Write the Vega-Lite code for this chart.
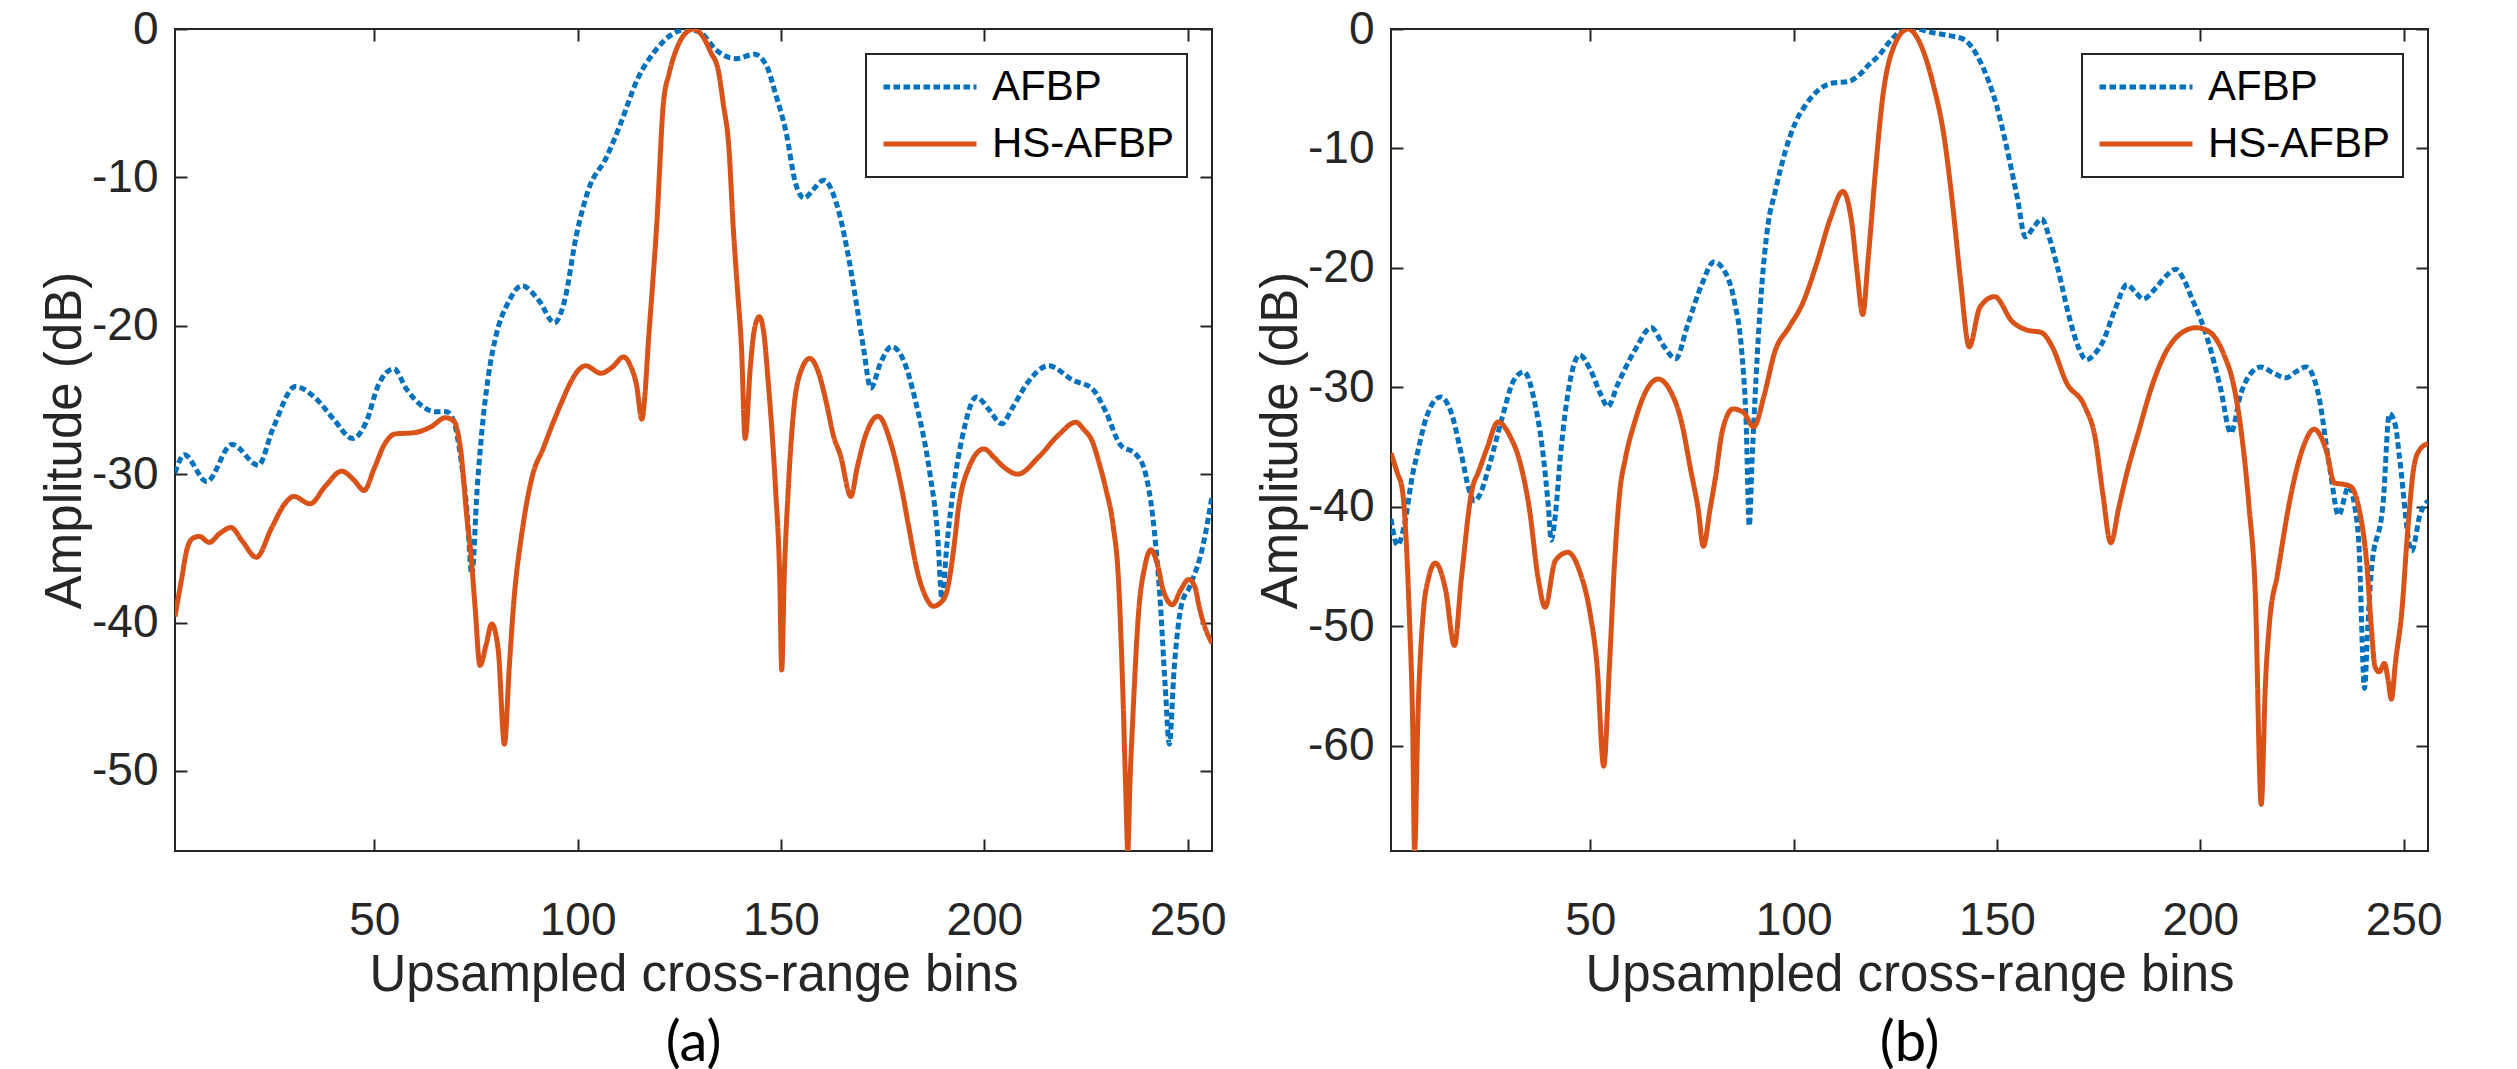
{
  "$schema": "https://vega.github.io/schema/vega-lite/v6.json",
  "padding": {"left": 38, "top": 5, "right": 80, "bottom": 5},
  "background": "white",
  "spacing": 179,
  "bounds": "flush",
  "resolve": {"scale": {"color": "independent", "strokeDash": "independent", "strokeWidth": "independent"}, "legend": {"color": "independent", "strokeDash": "independent"}},
  "config": {
    "view": {"stroke": "#262626", "strokeWidth": 2},
    "axis": {"grid": false, "domain": false, "tickColor": "#262626", "tickWidth": 2, "tickSize": -12, "labelFont": "Liberation Sans", "labelFontSize": 46, "labelColor": "#262626", "titleFont": "Liberation Sans", "titleFontSize": 51, "titleFontWeight": "normal", "titleColor": "#262626", "labelExpr": "'' + datum.value"},
    "axisX": {"labelPadding": 59, "titlePadding": 7},
    "axisY": {"labelPadding": 29, "titlePadding": 0},
    "legend": {"orient": "top-right", "offset": 25, "padding": 12, "strokeColor": "#262626", "strokeWidth": 2, "fillColor": "white", "labelFont": "Liberation Sans", "labelFontSize": 42, "labelColor": "#000000", "labelLimit": 500, "symbolType": "M-1,0H5", "symbolSize": 961, "symbolStrokeWidth": 5, "rowPadding": 15, "labelOffset": 72, "cornerRadius": 0},
    "title": {"font": "Lato", "fontSize": 56, "fontWeight": "normal", "color": "#000000", "orient": "bottom", "anchor": "middle", "frame": "group", "offset": 17}
  },
  "datasets": {
    "a": [
      {"s":"AFBP","x":1,"y":-29.9},{"s":"AFBP","x":3.3,"y":-28.7},{"s":"AFBP","x":8.8,"y":-30.5},{"s":"AFBP","x":15,"y":-28.0},{"s":"AFBP","x":21.5,"y":-29.4},{"s":"AFBP","x":25,"y":-27},{"s":"AFBP","x":30.6,"y":-24.1},{"s":"AFBP","x":36,"y":-25},{"s":"AFBP","x":40,"y":-26.3},{"s":"AFBP","x":44.7,"y":-27.6},{"s":"AFBP","x":48,"y":-26.5},{"s":"AFBP","x":51,"y":-24},{"s":"AFBP","x":54.8,"y":-22.9},{"s":"AFBP","x":58,"y":-24.3},{"s":"AFBP","x":61.7,"y":-25.4},{"s":"AFBP","x":65,"y":-25.8},{"s":"AFBP","x":67.8,"y":-25.8},{"s":"AFBP","x":69.5,"y":-26.4},{"s":"AFBP","x":71.3,"y":-29},{"s":"AFBP","x":72.8,"y":-32.5},{"s":"AFBP","x":74,"y":-36.8},{"s":"AFBP","x":75.3,"y":-31},{"s":"AFBP","x":76.5,"y":-27},{"s":"AFBP","x":78,"y":-23.5},{"s":"AFBP","x":80,"y":-20.6},{"s":"AFBP","x":83,"y":-18.4},{"s":"AFBP","x":86.3,"y":-17.3},{"s":"AFBP","x":90.5,"y":-18.3},{"s":"AFBP","x":94.3,"y":-19.8},{"s":"AFBP","x":96.8,"y":-18.3},{"s":"AFBP","x":99.7,"y":-13.9},{"s":"AFBP","x":102.7,"y":-10.8},{"s":"AFBP","x":107,"y":-8.7},{"s":"AFBP","x":110.4,"y":-6.5},{"s":"AFBP","x":114.7,"y":-3.4},{"s":"AFBP","x":119,"y":-1.5},{"s":"AFBP","x":123,"y":-0.4},{"s":"AFBP","x":127,"y":0},{"s":"AFBP","x":130.5,"y":-0.3},{"s":"AFBP","x":134,"y":-1.4},{"s":"AFBP","x":139,"y":-2.0},{"s":"AFBP","x":143.5,"y":-1.7},{"s":"AFBP","x":146.5,"y":-2.5},{"s":"AFBP","x":148.7,"y":-4.4},{"s":"AFBP","x":151.3,"y":-7.0},{"s":"AFBP","x":153.5,"y":-10.3},{"s":"AFBP","x":155.7,"y":-11.4},{"s":"AFBP","x":158,"y":-10.8},{"s":"AFBP","x":160.5,"y":-10.2},{"s":"AFBP","x":163.7,"y":-11.8},{"s":"AFBP","x":166.3,"y":-14.9},{"s":"AFBP","x":168.5,"y":-18.4},{"s":"AFBP","x":170.3,"y":-21.5},{"s":"AFBP","x":172.1,"y":-24.2},{"s":"AFBP","x":174.5,"y":-22.5},{"s":"AFBP","x":177.2,"y":-21.4},{"s":"AFBP","x":180.4,"y":-22.5},{"s":"AFBP","x":183.1,"y":-25.1},{"s":"AFBP","x":186.6,"y":-29.9},{"s":"AFBP","x":188.5,"y":-34},{"s":"AFBP","x":189.6,"y":-38.4},{"s":"AFBP","x":190.8,"y":-34.8},{"s":"AFBP","x":192.4,"y":-31},{"s":"AFBP","x":194.6,"y":-27.5},{"s":"AFBP","x":198.1,"y":-24.8},{"s":"AFBP","x":201,"y":-25.6},{"s":"AFBP","x":204.3,"y":-26.6},{"s":"AFBP","x":207,"y":-25.5},{"s":"AFBP","x":210.5,"y":-23.9},{"s":"AFBP","x":215.8,"y":-22.7},{"s":"AFBP","x":222,"y":-23.7},{"s":"AFBP","x":226.4,"y":-24.2},{"s":"AFBP","x":229.9,"y":-25.8},{"s":"AFBP","x":233.4,"y":-28},{"s":"AFBP","x":237.4,"y":-28.7},{"s":"AFBP","x":239.6,"y":-29.9},{"s":"AFBP","x":241.4,"y":-32.8},{"s":"AFBP","x":243.2,"y":-38.3},{"s":"AFBP","x":244.5,"y":-44.3},{"s":"AFBP","x":245.5,"y":-48.2},{"s":"AFBP","x":246.7,"y":-43.1},{"s":"AFBP","x":248.5,"y":-38.8},{"s":"AFBP","x":250.5,"y":-37.6},{"s":"AFBP","x":253.8,"y":-34.8},{"s":"AFBP","x":256,"y":-31.5},
      {"s":"HS-AFBP","x":1,"y":-39.6},{"s":"HS-AFBP","x":2.6,"y":-37.1},{"s":"HS-AFBP","x":4,"y":-35},{"s":"HS-AFBP","x":5.5,"y":-34.3},{"s":"HS-AFBP","x":7,"y":-34.2},{"s":"HS-AFBP","x":9.4,"y":-34.6},{"s":"HS-AFBP","x":12,"y":-34},{"s":"HS-AFBP","x":14.8,"y":-33.6},{"s":"HS-AFBP","x":17.5,"y":-34.5},{"s":"HS-AFBP","x":21,"y":-35.6},{"s":"HS-AFBP","x":24.8,"y":-33.6},{"s":"HS-AFBP","x":28,"y":-32},{"s":"HS-AFBP","x":30.2,"y":-31.5},{"s":"HS-AFBP","x":34.2,"y":-32},{"s":"HS-AFBP","x":38,"y":-30.8},{"s":"HS-AFBP","x":42,"y":-29.8},{"s":"HS-AFBP","x":45,"y":-30.4},{"s":"HS-AFBP","x":47.5,"y":-31.1},{"s":"HS-AFBP","x":50,"y":-29.6},{"s":"HS-AFBP","x":52.5,"y":-28},{"s":"HS-AFBP","x":55,"y":-27.3},{"s":"HS-AFBP","x":60,"y":-27.2},{"s":"HS-AFBP","x":64,"y":-26.8},{"s":"HS-AFBP","x":67.5,"y":-26.2},{"s":"HS-AFBP","x":69.5,"y":-26.4},{"s":"HS-AFBP","x":71.3,"y":-28.5},{"s":"HS-AFBP","x":72.8,"y":-33},{"s":"HS-AFBP","x":73.8,"y":-35.5},{"s":"HS-AFBP","x":74.8,"y":-39},{"s":"HS-AFBP","x":76,"y":-42.9},{"s":"HS-AFBP","x":77.5,"y":-41.5},{"s":"HS-AFBP","x":78.9,"y":-40.1},{"s":"HS-AFBP","x":80.5,"y":-41.9},{"s":"HS-AFBP","x":82,"y":-48.2},{"s":"HS-AFBP","x":83.2,"y":-43},{"s":"HS-AFBP","x":84.2,"y":-39},{"s":"HS-AFBP","x":86.5,"y":-33.6},{"s":"HS-AFBP","x":89,"y":-30},{"s":"HS-AFBP","x":91.5,"y":-28.3},{"s":"HS-AFBP","x":93.3,"y":-27},{"s":"HS-AFBP","x":96,"y":-25.2},{"s":"HS-AFBP","x":98.5,"y":-23.7},{"s":"HS-AFBP","x":100.5,"y":-22.9},{"s":"HS-AFBP","x":102,"y":-22.7},{"s":"HS-AFBP","x":105.7,"y":-23.2},{"s":"HS-AFBP","x":108.5,"y":-22.8},{"s":"HS-AFBP","x":111.3,"y":-22.1},{"s":"HS-AFBP","x":113,"y":-22.7},{"s":"HS-AFBP","x":114.5,"y":-24},{"s":"HS-AFBP","x":115.8,"y":-26.3},{"s":"HS-AFBP","x":116.6,"y":-24.5},{"s":"HS-AFBP","x":117.3,"y":-21.5},{"s":"HS-AFBP","x":118.5,"y":-17},{"s":"HS-AFBP","x":119.5,"y":-13},{"s":"HS-AFBP","x":121.1,"y":-5},{"s":"HS-AFBP","x":122.5,"y":-3},{"s":"HS-AFBP","x":124.4,"y":-1.3},{"s":"HS-AFBP","x":126.5,"y":-0.3},{"s":"HS-AFBP","x":128.6,"y":0},{"s":"HS-AFBP","x":130.5,"y":-0.4},{"s":"HS-AFBP","x":132.8,"y":-1.6},{"s":"HS-AFBP","x":134.6,"y":-2.8},{"s":"HS-AFBP","x":135.8,"y":-5},{"s":"HS-AFBP","x":137.2,"y":-8},{"s":"HS-AFBP","x":138.3,"y":-13.5},{"s":"HS-AFBP","x":139.3,"y":-17.5},{"s":"HS-AFBP","x":140.3,"y":-21.5},{"s":"HS-AFBP","x":141.2,"y":-27.6},{"s":"HS-AFBP","x":142.5,"y":-22.7},{"s":"HS-AFBP","x":143.5,"y":-20.2},{"s":"HS-AFBP","x":144.7,"y":-19.4},{"s":"HS-AFBP","x":145.8,"y":-20.5},{"s":"HS-AFBP","x":146.9,"y":-23.9},{"s":"HS-AFBP","x":147.9,"y":-27.5},{"s":"HS-AFBP","x":148.7,"y":-31.1},{"s":"HS-AFBP","x":149.7,"y":-37},{"s":"HS-AFBP","x":150.2,"y":-43.2},{"s":"HS-AFBP","x":150.8,"y":-37},{"s":"HS-AFBP","x":151.7,"y":-31.5},{"s":"HS-AFBP","x":153.1,"y":-25.8},{"s":"HS-AFBP","x":155,"y":-23},{"s":"HS-AFBP","x":157.1,"y":-22.2},{"s":"HS-AFBP","x":159.3,"y":-23.2},{"s":"HS-AFBP","x":161.1,"y":-25.1},{"s":"HS-AFBP","x":163,"y":-27.5},{"s":"HS-AFBP","x":164.6,"y":-28.7},{"s":"HS-AFBP","x":167.2,"y":-31.5},{"s":"HS-AFBP","x":168.8,"y":-29.5},{"s":"HS-AFBP","x":170.8,"y":-27.4},{"s":"HS-AFBP","x":173.9,"y":-26.1},{"s":"HS-AFBP","x":177,"y":-27.9},{"s":"HS-AFBP","x":179.7,"y":-31},{"s":"HS-AFBP","x":181.4,"y":-33.5},{"s":"HS-AFBP","x":183.5,"y":-36.5},{"s":"HS-AFBP","x":185.5,"y":-38.2},{"s":"HS-AFBP","x":187.5,"y":-38.9},{"s":"HS-AFBP","x":189.5,"y":-38.6},{"s":"HS-AFBP","x":190.9,"y":-37.8},{"s":"HS-AFBP","x":192.5,"y":-35},{"s":"HS-AFBP","x":193.6,"y":-32.4},{"s":"HS-AFBP","x":196.3,"y":-29.5},{"s":"HS-AFBP","x":199.9,"y":-28.3},{"s":"HS-AFBP","x":202.5,"y":-28.9},{"s":"HS-AFBP","x":204.3,"y":-29.4},{"s":"HS-AFBP","x":208.3,"y":-30},{"s":"HS-AFBP","x":213.2,"y":-28.9},{"s":"HS-AFBP","x":218.5,"y":-27.3},{"s":"HS-AFBP","x":222.5,"y":-26.5},{"s":"HS-AFBP","x":224.5,"y":-27},{"s":"HS-AFBP","x":226.4,"y":-27.7},{"s":"HS-AFBP","x":228.5,"y":-29.5},{"s":"HS-AFBP","x":229.9,"y":-31},{"s":"HS-AFBP","x":231.7,"y":-33.5},{"s":"HS-AFBP","x":233,"y":-37.1},{"s":"HS-AFBP","x":234,"y":-44},{"s":"HS-AFBP","x":234.8,"y":-51.4},{"s":"HS-AFBP","x":235.3,"y":-55.4},{"s":"HS-AFBP","x":235.8,"y":-51},{"s":"HS-AFBP","x":236.5,"y":-46.6},{"s":"HS-AFBP","x":237.9,"y":-39.5},{"s":"HS-AFBP","x":239.5,"y":-36.2},{"s":"HS-AFBP","x":241,"y":-35.1},{"s":"HS-AFBP","x":242.5,"y":-36},{"s":"HS-AFBP","x":244.1,"y":-37.9},{"s":"HS-AFBP","x":246.3,"y":-38.8},{"s":"HS-AFBP","x":248.3,"y":-37.8},{"s":"HS-AFBP","x":250.3,"y":-37.1},{"s":"HS-AFBP","x":251.8,"y":-37.6},{"s":"HS-AFBP","x":252.9,"y":-39},{"s":"HS-AFBP","x":254,"y":-40.1},{"s":"HS-AFBP","x":256,"y":-41.4}
    ],
    "b": [
      {"s":"AFBP","x":1,"y":-41},{"s":"AFBP","x":2.6,"y":-43.2},{"s":"AFBP","x":4.3,"y":-41.5},{"s":"AFBP","x":6.3,"y":-37.3},{"s":"AFBP","x":7.5,"y":-35.5},{"s":"AFBP","x":9.8,"y":-32.4},{"s":"AFBP","x":13.2,"y":-30.8},{"s":"AFBP","x":15.8,"y":-32.1},{"s":"AFBP","x":18.3,"y":-35.6},{"s":"AFBP","x":20.3,"y":-38.7},{"s":"AFBP","x":21.5,"y":-39.5},{"s":"AFBP","x":22.8,"y":-39},{"s":"AFBP","x":25.2,"y":-36.5},{"s":"AFBP","x":28.2,"y":-32.7},{"s":"AFBP","x":31.2,"y":-29.4},{"s":"AFBP","x":33.7,"y":-28.7},{"s":"AFBP","x":36.3,"y":-31.2},{"s":"AFBP","x":38.4,"y":-35.6},{"s":"AFBP","x":39.7,"y":-40},{"s":"AFBP","x":40.4,"y":-42.8},{"s":"AFBP","x":41.4,"y":-40.7},{"s":"AFBP","x":42.7,"y":-35.6},{"s":"AFBP","x":44.9,"y":-29.7},{"s":"AFBP","x":47.4,"y":-27.3},{"s":"AFBP","x":50,"y":-28.5},{"s":"AFBP","x":52.6,"y":-30.6},{"s":"AFBP","x":54.3,"y":-31.6},{"s":"AFBP","x":56.8,"y":-29.7},{"s":"AFBP","x":61.1,"y":-26.8},{"s":"AFBP","x":65,"y":-25},{"s":"AFBP","x":68,"y":-26.5},{"s":"AFBP","x":71,"y":-27.6},{"s":"AFBP","x":74,"y":-24.7},{"s":"AFBP","x":77.4,"y":-21.4},{"s":"AFBP","x":80.4,"y":-19.5},{"s":"AFBP","x":83.4,"y":-20.5},{"s":"AFBP","x":85.5,"y":-22.9},{"s":"AFBP","x":87.2,"y":-26.8},{"s":"AFBP","x":88.3,"y":-32.7},{"s":"AFBP","x":89.1,"y":-41.6},{"s":"AFBP","x":89.8,"y":-36},{"s":"AFBP","x":90.8,"y":-29},{"s":"AFBP","x":92,"y":-22.3},{"s":"AFBP","x":93.7,"y":-16.4},{"s":"AFBP","x":95.4,"y":-13.7},{"s":"AFBP","x":98,"y":-10.2},{"s":"AFBP","x":100.5,"y":-7.8},{"s":"AFBP","x":103.1,"y":-6.3},{"s":"AFBP","x":106.5,"y":-5},{"s":"AFBP","x":110,"y":-4.5},{"s":"AFBP","x":113.4,"y":-4.4},{"s":"AFBP","x":116,"y":-3.9},{"s":"AFBP","x":118.5,"y":-3.0},{"s":"AFBP","x":121,"y":-2.2},{"s":"AFBP","x":124,"y":-0.9},{"s":"AFBP","x":127,"y":-0.1},{"s":"AFBP","x":130,"y":0},{"s":"AFBP","x":134,"y":-0.3},{"s":"AFBP","x":139,"y":-0.6},{"s":"AFBP","x":142,"y":-0.9},{"s":"AFBP","x":144,"y":-1.6},{"s":"AFBP","x":146,"y":-2.8},{"s":"AFBP","x":148,"y":-4.4},{"s":"AFBP","x":150,"y":-6.5},{"s":"AFBP","x":152,"y":-9.3},{"s":"AFBP","x":155,"y":-14.1},{"s":"AFBP","x":157,"y":-17.4},{"s":"AFBP","x":159,"y":-16.6},{"s":"AFBP","x":161,"y":-15.9},{"s":"AFBP","x":163,"y":-17.6},{"s":"AFBP","x":165,"y":-20.1},{"s":"AFBP","x":168,"y":-24.4},{"s":"AFBP","x":170,"y":-26.6},{"s":"AFBP","x":172,"y":-27.7},{"s":"AFBP","x":174,"y":-27.2},{"s":"AFBP","x":176,"y":-26.2},{"s":"AFBP","x":179,"y":-23.5},{"s":"AFBP","x":182,"y":-21.4},{"s":"AFBP","x":184,"y":-22},{"s":"AFBP","x":186,"y":-22.6},{"s":"AFBP","x":189,"y":-21.7},{"s":"AFBP","x":191.5,"y":-20.7},{"s":"AFBP","x":194,"y":-20.1},{"s":"AFBP","x":196,"y":-21},{"s":"AFBP","x":198,"y":-22.6},{"s":"AFBP","x":200,"y":-24.2},{"s":"AFBP","x":202,"y":-26.2},{"s":"AFBP","x":205,"y":-30.1},{"s":"AFBP","x":207.5,"y":-33.8},{"s":"AFBP","x":210,"y":-30.5},{"s":"AFBP","x":212.5,"y":-28.8},{"s":"AFBP","x":215,"y":-28.3},{"s":"AFBP","x":218,"y":-28.8},{"s":"AFBP","x":221,"y":-29.2},{"s":"AFBP","x":223.5,"y":-28.7},{"s":"AFBP","x":226,"y":-28.3},{"s":"AFBP","x":229,"y":-30.5},{"s":"AFBP","x":232,"y":-37.1},{"s":"AFBP","x":234,"y":-40.7},{"s":"AFBP","x":236.5,"y":-38.3},{"s":"AFBP","x":238,"y":-40},{"s":"AFBP","x":239,"y":-43.1},{"s":"AFBP","x":240.4,"y":-55.2},{"s":"AFBP","x":241.2,"y":-50},{"s":"AFBP","x":242,"y":-45.6},{"s":"AFBP","x":245,"y":-39.5},{"s":"AFBP","x":246.5,"y":-32.2},{"s":"AFBP","x":248,"y":-33.2},{"s":"AFBP","x":249,"y":-35.9},{"s":"AFBP","x":252,"y":-43.7},{"s":"AFBP","x":254,"y":-40.7},{"s":"AFBP","x":256,"y":-39.5},
      {"s":"HS-AFBP","x":1,"y":-35.5},{"s":"HS-AFBP","x":2.5,"y":-37.1},{"s":"HS-AFBP","x":3.8,"y":-38.6},{"s":"HS-AFBP","x":5.5,"y":-49},{"s":"HS-AFBP","x":6.3,"y":-57.8},{"s":"HS-AFBP","x":6.8,"y":-68.8},{"s":"HS-AFBP","x":7.6,"y":-57.8},{"s":"HS-AFBP","x":8.9,"y":-49},{"s":"HS-AFBP","x":10.2,"y":-46},{"s":"HS-AFBP","x":11.9,"y":-44.7},{"s":"HS-AFBP","x":14.4,"y":-46.9},{"s":"HS-AFBP","x":16.6,"y":-51.6},{"s":"HS-AFBP","x":18.3,"y":-46},{"s":"HS-AFBP","x":20.9,"y":-38.6},{"s":"HS-AFBP","x":22.6,"y":-37},{"s":"HS-AFBP","x":24.7,"y":-35},{"s":"HS-AFBP","x":27.3,"y":-32.9},{"s":"HS-AFBP","x":30.3,"y":-34.1},{"s":"HS-AFBP","x":32.9,"y":-36.5},{"s":"HS-AFBP","x":35,"y":-40.1},{"s":"HS-AFBP","x":37.2,"y":-46},{"s":"HS-AFBP","x":38.9,"y":-48.4},{"s":"HS-AFBP","x":41.4,"y":-44.5},{"s":"HS-AFBP","x":44.5,"y":-43.8},{"s":"HS-AFBP","x":47.4,"y":-45.4},{"s":"HS-AFBP","x":50,"y":-49},{"s":"HS-AFBP","x":51.7,"y":-53.4},{"s":"HS-AFBP","x":53.3,"y":-61.7},{"s":"HS-AFBP","x":54.7,"y":-53.4},{"s":"HS-AFBP","x":56,"y":-44.5},{"s":"HS-AFBP","x":57.3,"y":-38.6},{"s":"HS-AFBP","x":58.6,"y":-36},{"s":"HS-AFBP","x":61.1,"y":-32.7},{"s":"HS-AFBP","x":63.7,"y":-30.3},{"s":"HS-AFBP","x":66.7,"y":-29.3},{"s":"HS-AFBP","x":69.7,"y":-30.3},{"s":"HS-AFBP","x":72.3,"y":-32.7},{"s":"HS-AFBP","x":74.8,"y":-37.1},{"s":"HS-AFBP","x":76.5,"y":-40.1},{"s":"HS-AFBP","x":77.8,"y":-43.3},{"s":"HS-AFBP","x":79.5,"y":-40.1},{"s":"HS-AFBP","x":80.8,"y":-37.5},{"s":"HS-AFBP","x":82.5,"y":-33.6},{"s":"HS-AFBP","x":85.1,"y":-31.8},{"s":"HS-AFBP","x":87.7,"y":-32.1},{"s":"HS-AFBP","x":90.2,"y":-33.3},{"s":"HS-AFBP","x":92.8,"y":-30.6},{"s":"HS-AFBP","x":95.4,"y":-27},{"s":"HS-AFBP","x":98.8,"y":-25},{"s":"HS-AFBP","x":102.3,"y":-22.9},{"s":"HS-AFBP","x":105.7,"y":-19.6},{"s":"HS-AFBP","x":109.1,"y":-15.8},{"s":"HS-AFBP","x":112.1,"y":-13.6},{"s":"HS-AFBP","x":114.3,"y":-16.2},{"s":"HS-AFBP","x":115.6,"y":-20.3},{"s":"HS-AFBP","x":117,"y":-23.9},{"s":"HS-AFBP","x":118.3,"y":-19.4},{"s":"HS-AFBP","x":120.1,"y":-12},{"s":"HS-AFBP","x":121.8,"y":-6},{"s":"HS-AFBP","x":124.5,"y":-1.6},{"s":"HS-AFBP","x":128.1,"y":0},{"s":"HS-AFBP","x":131.6,"y":-1.6},{"s":"HS-AFBP","x":134.3,"y":-4.6},{"s":"HS-AFBP","x":137,"y":-9},{"s":"HS-AFBP","x":139.2,"y":-15},{"s":"HS-AFBP","x":141,"y":-20.9},{"s":"HS-AFBP","x":143.2,"y":-26.6},{"s":"HS-AFBP","x":145.8,"y":-23.3},{"s":"HS-AFBP","x":149.4,"y":-22.4},{"s":"HS-AFBP","x":153.8,"y":-24.5},{"s":"HS-AFBP","x":157.4,"y":-25.2},{"s":"HS-AFBP","x":160.9,"y":-25.4},{"s":"HS-AFBP","x":163.6,"y":-26.6},{"s":"HS-AFBP","x":167.1,"y":-29.6},{"s":"HS-AFBP","x":171.6,"y":-31.6},{"s":"HS-AFBP","x":174.2,"y":-34.3},{"s":"HS-AFBP","x":176,"y":-38.8},{"s":"HS-AFBP","x":178,"y":-43},{"s":"HS-AFBP","x":180,"y":-40},{"s":"HS-AFBP","x":182,"y":-37.1},{"s":"HS-AFBP","x":185,"y":-33.5},{"s":"HS-AFBP","x":188,"y":-30},{"s":"HS-AFBP","x":191,"y":-27.4},{"s":"HS-AFBP","x":196,"y":-25.3},{"s":"HS-AFBP","x":199,"y":-25},{"s":"HS-AFBP","x":202,"y":-25.3},{"s":"HS-AFBP","x":204,"y":-26},{"s":"HS-AFBP","x":206,"y":-27.4},{"s":"HS-AFBP","x":208,"y":-29.5},{"s":"HS-AFBP","x":210,"y":-33.5},{"s":"HS-AFBP","x":212,"y":-40},{"s":"HS-AFBP","x":213.5,"y":-47},{"s":"HS-AFBP","x":215,"y":-64.9},{"s":"HS-AFBP","x":216,"y":-55},{"s":"HS-AFBP","x":217,"y":-49.8},{"s":"HS-AFBP","x":219,"y":-45.6},{"s":"HS-AFBP","x":222,"y":-39.5},{"s":"HS-AFBP","x":225,"y":-35.3},{"s":"HS-AFBP","x":228,"y":-33.5},{"s":"HS-AFBP","x":231,"y":-35.3},{"s":"HS-AFBP","x":233,"y":-38},{"s":"HS-AFBP","x":235,"y":-38.1},{"s":"HS-AFBP","x":237,"y":-38.3},{"s":"HS-AFBP","x":239,"y":-40.1},{"s":"HS-AFBP","x":241,"y":-45},{"s":"HS-AFBP","x":242,"y":-49.8},{"s":"HS-AFBP","x":243,"y":-53.4},{"s":"HS-AFBP","x":244,"y":-53.8},{"s":"HS-AFBP","x":245.3,"y":-53.1},{"s":"HS-AFBP","x":246.2,"y":-54.5},{"s":"HS-AFBP","x":247,"y":-56.1},{"s":"HS-AFBP","x":248,"y":-53},{"s":"HS-AFBP","x":249.6,"y":-48.6},{"s":"HS-AFBP","x":251,"y":-42},{"s":"HS-AFBP","x":252.6,"y":-36.5},{"s":"HS-AFBP","x":254,"y":-35.2},{"s":"HS-AFBP","x":256,"y":-34.7}
    ]
  },
  "hconcat": [
    {
      "width": 1037,
      "height": 822,
      "data": {"name": "a"},
      "title": {"text": "(a)"},
      "resolve": {"axis": {"x": "independent", "y": "independent"}},
      "layer": [
        {
          "mark": {"type": "line", "clip": true, "interpolate": "monotone"},
          "encoding": {
            "x": {"field": "x", "type": "quantitative", "scale": {"domain": [1, 256], "nice": false, "zero": false}, "axis": {"values": [50, 100, 150, 200, 250], "title": "Upsampled cross-range bins"}},
            "y": {"field": "y", "type": "quantitative", "scale": {"domain": [-55.4, 0], "nice": false, "zero": false}, "axis": {"values": [-50, -40, -30, -20, -10, 0], "title": "Amplitude (dB)"}},
            "color": {"field": "s", "type": "nominal", "scale": {"domain": ["AFBP", "HS-AFBP"], "range": ["#0072BD", "#D95319"]}, "legend": {"title": null}},
            "strokeDash": {"field": "s", "type": "nominal", "scale": {"domain": ["AFBP", "HS-AFBP"], "range": [[6.5, 3.5], [1, 0]]}, "legend": {"title": null}},
            "strokeWidth": {"field": "s", "type": "nominal", "scale": {"domain": ["AFBP", "HS-AFBP"], "range": [5, 5]}, "legend": null}
          }
        },
        {
          "mark": {"type": "line", "opacity": 0},
          "encoding": {
            "x": {"field": "x", "type": "quantitative", "scale": {"domain": [1, 256], "nice": false, "zero": false}, "axis": {"orient": "top", "values": [50, 100, 150, 200, 250], "labels": false, "title": null}},
            "y": {"field": "y", "type": "quantitative", "scale": {"domain": [-55.4, 0], "nice": false, "zero": false}, "axis": {"orient": "right", "values": [-50, -40, -30, -20, -10, 0], "labels": false, "title": null}},
            "detail": {"field": "s"}
          }
        }
      ]
    },
    {
      "width": 1037,
      "height": 822,
      "data": {"name": "b"},
      "title": {"text": "(b)"},
      "resolve": {"axis": {"x": "independent", "y": "independent"}},
      "layer": [
        {
          "mark": {"type": "line", "clip": true, "interpolate": "monotone"},
          "encoding": {
            "x": {"field": "x", "type": "quantitative", "scale": {"domain": [1, 256], "nice": false, "zero": false}, "axis": {"values": [50, 100, 150, 200, 250], "title": "Upsampled cross-range bins"}},
            "y": {"field": "y", "type": "quantitative", "scale": {"domain": [-68.8, 0], "nice": false, "zero": false}, "axis": {"values": [-60, -50, -40, -30, -20, -10, 0], "title": "Amplitude (dB)"}},
            "color": {"field": "s", "type": "nominal", "scale": {"domain": ["AFBP", "HS-AFBP"], "range": ["#0072BD", "#D95319"]}, "legend": {"title": null}},
            "strokeDash": {"field": "s", "type": "nominal", "scale": {"domain": ["AFBP", "HS-AFBP"], "range": [[6.5, 3.5], [1, 0]]}, "legend": {"title": null}},
            "strokeWidth": {"field": "s", "type": "nominal", "scale": {"domain": ["AFBP", "HS-AFBP"], "range": [5, 5]}, "legend": null}
          }
        },
        {
          "mark": {"type": "line", "opacity": 0},
          "encoding": {
            "x": {"field": "x", "type": "quantitative", "scale": {"domain": [1, 256], "nice": false, "zero": false}, "axis": {"orient": "top", "values": [50, 100, 150, 200, 250], "labels": false, "title": null}},
            "y": {"field": "y", "type": "quantitative", "scale": {"domain": [-68.8, 0], "nice": false, "zero": false}, "axis": {"orient": "right", "values": [-60, -50, -40, -30, -20, -10, 0], "labels": false, "title": null}},
            "detail": {"field": "s"}
          }
        }
      ]
    }
  ]
}
